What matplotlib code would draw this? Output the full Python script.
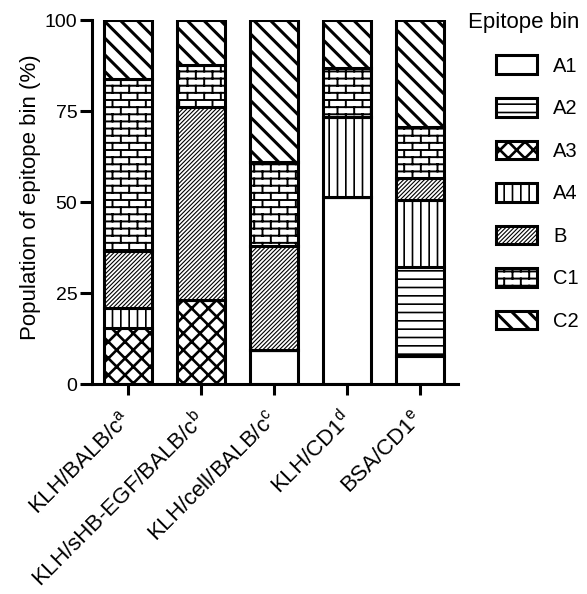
import warnings
import numpy as np
import matplotlib
matplotlib.use("Agg")
import matplotlib as mpl
import matplotlib.pyplot as plt
import matplotlib.hatch as mhatch
from matplotlib.path import Path
from matplotlib.transforms import ScaledTranslation

warnings.filterwarnings("ignore", category=mpl.MatplotlibDeprecationWarning)

# epitope bin composition (%) per immunisation group
groups = ["KLH/BALB/c$^{a}$", "KLH/sHB-EGF/BALB/c$^{b}$", "KLH/cell/BALB/c$^{c}$",
          "KLH/CD1$^{d}$", "BSA/CD1$^{e}$"]
bins = ["A1", "A2", "A3", "A4", "B", "C1", "C2"]
A1 = [0.0, 0.0, 9.4, 51.5, 7.8]
A2 = [0.0, 0.0, 0.0, 0.0, 24.5]
A3 = [15.3, 23.2, 0.0, 0.0, 0.0]
A4 = [5.5, 0.0, 0.0, 22.0, 18.3]
B = [15.8, 53.1, 28.6, 0.0, 6.0]
C1 = [47.2, 11.5, 23.2, 13.3, 14.2]
C2 = [16.2, 12.2, 38.8, 13.2, 29.2]
yticks = [0, 25, 50, 75, 100]


# brick pattern for the C1 bin ('b' in a hatch string)
class BrickHatch(mhatch.HatchPatternBase):
    def __init__(self, hatch, density):
        self.rows = hatch.count('b') * 14
        self.bricks = 6
        if self.rows:
            self.num_vertices = (self.rows + 1) * 2 + self.rows * self.bricks * 2
        else:
            self.num_vertices = 0

    def set_vertices_and_codes(self, vertices, codes):
        h = 1.0 / self.rows
        v = []
        for i in range(self.rows + 1):
            v += [(0, i * h), (1, i * h)]
        for i in range(self.rows):
            off = (0.75 if i % 2 else 0.25) / self.bricks
            for j in range(self.bricks):
                x = j / self.bricks + off
                v += [(x, i * h), (x, (i + 1) * h)]
        vertices[:] = v
        codes[0::2] = Path.MOVETO
        codes[1::2] = Path.LINETO


mhatch._hatch_types.append(BrickHatch)

plt.rcParams['font.family'] = ['Liberation Sans', 'DejaVu Sans']
plt.rcParams['mathtext.fontset'] = 'custom'
plt.rcParams['mathtext.rm'] = 'Liberation Sans'
plt.rcParams['mathtext.it'] = 'Liberation Sans'
plt.rcParams['mathtext.default'] = 'regular'

hatches = ['', '--', 'xx', '||', '////////', 'b', '\\\\']
hatch_lw = [1.0, 1.2, 1.9, 1.2, 0.8, 1.4, 2.2]


def hatch_width(patch, lw):
    if hasattr(patch, 'set_hatch_linewidth'):
        patch.set_hatch_linewidth(lw)
    draw = patch.draw

    def _draw(renderer, _draw=draw, _lw=lw):
        with mpl.rc_context({'hatch.linewidth': _lw}):
            _draw(renderer)
    patch.draw = _draw


fig = plt.figure(figsize=(5.87, 5.94), dpi=100)
ax = fig.add_axes([0.1567, 0.3535, 0.6235, 0.612])

x = np.arange(len(groups))
series = [A1, A2, A3, A4, B, C1, C2]
bottom = np.zeros(len(groups))
conts = []
for name, vals, h, lw in zip(bins, series, hatches, hatch_lw):
    with mpl.rc_context({'hatch.linewidth': lw}):
        bc = ax.bar(x, vals, 0.66, bottom=bottom, color='white', edgecolor='black',
                    linewidth=2.2, hatch=h, label=name)
    for p in bc.patches:
        hatch_width(p, lw)
    conts.append(bc)
    bottom = bottom + np.array(vals)

ax.set_xlim(-0.493, 4.52)
ax.set_ylim(0, 100)
ax.set_yticks(yticks)
ax.set_xticks(x)
ax.tick_params(axis='y', labelsize=14, length=8.5, width=2.2, pad=2)
ax.tick_params(axis='x', length=8, width=2.2, pad=9)
ax.set_xticklabels(groups, rotation=45, ha='right', va='top', rotation_mode='anchor',
                   fontsize=16)
# nudge the slanted group names left of their ticks
shift = ScaledTranslation(-8 / 100, 0, fig.dpi_scale_trans)
for lab in ax.get_xticklabels():
    lab.set_transform(lab.get_transform() + shift)
for s in ['top', 'right']:
    ax.spines[s].set_visible(False)
for s in ['left', 'bottom']:
    ax.spines[s].set_linewidth(2.2)
ax.set_ylabel('Population of epitope bin (%)', fontsize=16, labelpad=2)
ax.yaxis.set_label_coords(-0.14, 0.515)

leg = fig.legend(handles=conts, labels=bins, title='Epitope bin', loc='upper right',
                 bbox_to_anchor=(589 / 587, 1 - 2 / 594), frameon=False, fontsize=14.5,
                 title_fontsize=16, handlelength=2.05, handleheight=1.05,
                 handletextpad=0.8, labelspacing=1.11, borderpad=0, alignment='right')
for p, lw in zip(leg.get_patches(), hatch_lw):
    hatch_width(p, lw)

fig.savefig('out.png', dpi=100)
